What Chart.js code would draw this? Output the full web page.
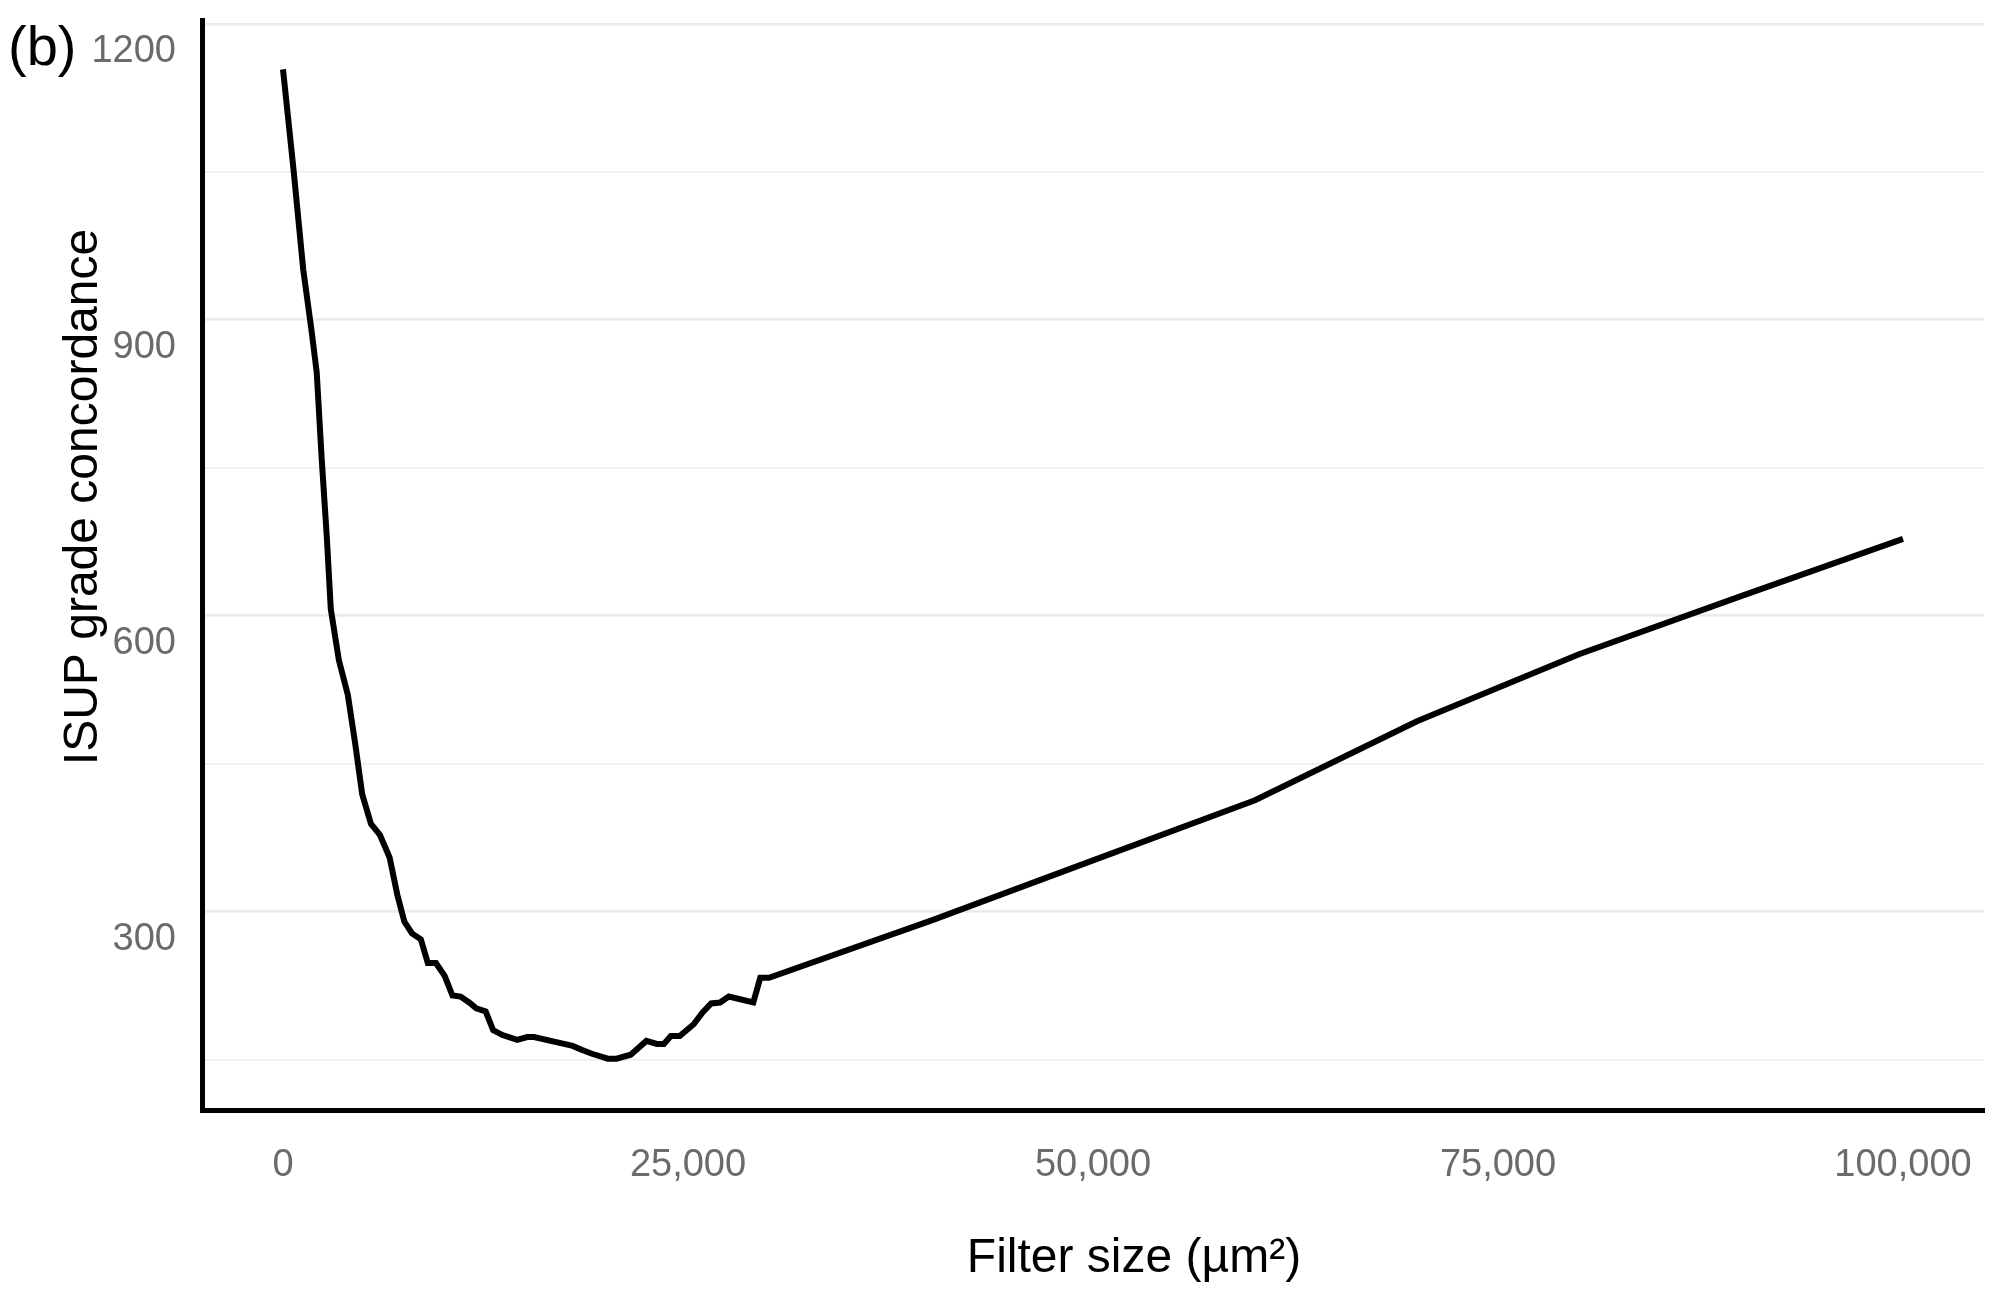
<!DOCTYPE html>
<html lang="en">
<head>
  <meta charset="UTF-8" />
  <title>ISUP grade concordance vs filter size</title>
  <script src="https://cdn.jsdelivr.net/npm/chart.js"></script>
  <style>
    body { margin: 0; background: #fff; }
    #wrap { width: 2000px; height: 1291px; }
  </style>
</head>
<body>
  <div id="wrap"><canvas id="curveChart" width="2000" height="1291"></canvas></div>

  <script>
    // values
    const filterSize = [0, 640, 1250, 1770, 2080, 2390, 2700, 2950, 3450, 4000, 4460, 4890, 5430, 5980,
      6580, 7060, 7490, 7960, 8510, 8940, 9440, 9980, 10460, 10960, 11490, 11930, 12510, 12970, 13550,
      14460, 15070, 15500, 16800, 17880, 18430, 19070, 20050, 20590, 21460, 22430, 23080, 23510, 23940,
      24490, 25350, 25900, 26430, 26980, 27520, 29030, 29460, 30000, 40000, 50000, 60000, 70000, 80000,
      90000, 100000];
    const concordance = [1154, 1054, 951, 888, 847, 759, 681, 607, 555, 520, 470, 419, 389, 378,
      355, 317, 290, 278, 272, 248, 248, 235, 215, 214, 208, 202, 199, 180, 175,
      170, 173, 173, 168, 164, 160, 156, 151, 151, 155, 169, 166, 166, 174,
      174, 186, 198, 207, 208, 214, 208, 233, 233, 291, 352, 413, 493, 561,
      620, 678];

    const xTicks = [0, 25000, 50000, 75000, 100000];
    const yGrid = [150, 300, 450, 600, 750, 900, 1050, 1200];
    const yLabelled = [300, 600, 900, 1200];

    const panelTag = "(b)";
    const xTitle = "Filter size (\u00b5m\u00b2)";
    const yTitle = "ISUP grade concordance";

    const fontFamily = '"Liberation Sans", Arial, sans-serif';

    // axis titles and panel letter
    const panelText = {
      id: "panelText",
      afterDraw(chart) {
        const ctx = chart.ctx;
        ctx.save();
        ctx.fillStyle = "#000";
        ctx.textAlign = "center";
        ctx.textBaseline = "middle";
        ctx.font = "48px " + fontFamily;
        ctx.fillText(xTitle, 1134, 1259);
        ctx.translate(84, 497);
        ctx.rotate(-Math.PI / 2);
        ctx.fillText(yTitle, 0, 0);
        ctx.restore();

        ctx.save();
        ctx.fillStyle = "#000";
        ctx.textAlign = "left";
        ctx.textBaseline = "middle";
        ctx.font = "56px " + fontFamily;
        ctx.fillText(panelTag, 8, 50);
        ctx.restore();
      }
    };

    new Chart(document.getElementById("curveChart"), {
      type: "line",
      data: {
        datasets: [{
          data: filterSize.map((x, i) => ({ x: x, y: concordance[i] })),
          borderColor: "#000",
          borderWidth: 6,
          pointRadius: 0,
          tension: 0,
          fill: false
        }]
      },
      options: {
        responsive: false,
        animation: false,
        layout: { padding: { top: 20, right: 16, left: 0, bottom: 0 } },
        plugins: {
          legend: { display: false },
          tooltip: { enabled: false }
        },
        scales: {
          x: {
            type: "linear",
            min: -5000,
            max: 105000,
            afterBuildTicks: s => { s.ticks = xTicks.map(v => ({ value: v })); },
            afterFit: s => { s.height = 181; s.paddingLeft = 0; s.paddingRight = 0; },
            grid: { display: false, drawTicks: false },
            border: { display: true, color: "#000", width: 5 },
            ticks: {
              autoSkip: false,
              maxRotation: 0,
              padding: 33,
              color: "#6b6b6b",
              font: { family: fontFamily, size: 38 },
              callback: v => v.toLocaleString("en-US")
            }
          },
          y: {
            type: "linear",
            min: 99,
            max: 1204,
            afterBuildTicks: s => { s.ticks = yGrid.map(v => ({ value: v })); },
            afterFit: s => { s.width = 202; s.paddingTop = 0; s.paddingBottom = 0; },
            grid: {
              drawTicks: false,
              color: "#ebebeb",
              lineWidth: c => (yLabelled.includes(c.tick.value) ? 2.8 : 1.6)
            },
            border: { display: true, color: "#000", width: 5 },
            ticks: {
              padding: 26,
              labelOffset: 28,
              color: "#6b6b6b",
              font: { family: fontFamily, size: 38 },
              callback: v => (yLabelled.includes(v) ? String(v) : "")
            }
          }
        }
      },
      plugins: [panelText]
    });
  </script>
</body>
</html>
